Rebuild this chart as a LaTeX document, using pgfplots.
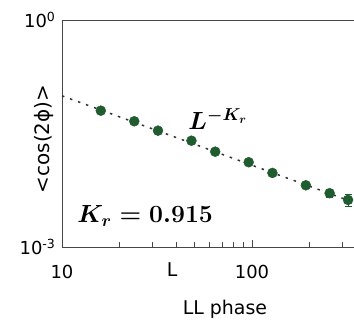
\documentclass[border=0pt]{standalone}
\usepackage{pgfplots}
\pgfplotsset{compat=1.18}
\usepackage{fontspec}
\setmainfont{DejaVu Sans}
\definecolor{mkgreen}{RGB}{32,92,48}
\definecolor{axgray}{RGB}{70,70,70}
\begin{document}
\begin{tikzpicture}
\begin{axis}[
  name=ax,
  scale only axis,
  width=292bp, height=227bp,
  xmode=log, ymode=log,
  xmin=10, xmax=344,
  ymin=0.001, ymax=1,
  axis x line=box, axis y line*=left,
  axis line style={axgray, line width=0.9bp},
  xtick={10,100}, xticklabels={10,100},
  minor xtick={20,30,40,50,60,70,80,90,200,300},
  xtick pos=left,
  major tick length=7bp, minor tick length=5bp,
  every tick/.style={axgray, line width=0.8bp},
  xticklabel style={anchor=base, yshift=-31bp, font=\fontsize{18}{20}\selectfont},
  ytick={0.001,1}, yticklabels={10\textsuperscript{-3},10\textsuperscript{0}},
  ytick style={draw=none},
  yticklabel style={font=\fontsize{18}{20}\selectfont, xshift=-3bp},
  xlabel={L},
  xlabel style={at={(axis description cs:0.377,0)}, anchor=center, yshift=-23bp, font=\fontsize{19}{21}\selectfont},
  ylabel={<cos(2ϕ)>},
  ylabel style={at={(axis description cs:-0.0616,0.476)}, anchor=center, font=\fontsize{20}{22}\selectfont},
  clip=false,
]
\addplot[only marks, mark=*, mark size=5bp, color=mkgreen,
  error bars/.cd, y dir=both, y explicit, error bar style={mkgreen, line width=1bp},
  error mark options={rotate=90, mark size=3.5bp, mkgreen, line width=1bp}]
  coordinates {
  (16,0.0634) +- (0,0)
  (24,0.0459) +- (0,0)
  (32,0.0345) +- (0,0)
  (48,0.0254) +- (0,0)
  (64,0.0182) +- (0,0)
  (96,0.0132) +- (0,0)
  (128,0.00953) +- (0,0)
  (192,0.00654) +- (0,0)
  (256,0.00514) +- (0,0.00065)
  (320,0.00419) +- (0,0.00078)
  };
\addplot[no marks, color=black!80, line width=1.5bp, dash pattern=on 2.5bp off 6bp]
  coordinates {(10,0.0995) (344,0.00388)};
\node[anchor=base west, font=\fontsize{25}{28}\selectfont\boldmath] at (rel axis cs:0.421,0.5176) {$L^{-K_r}$};
\node[anchor=base west, font=\fontsize{23}{26}\selectfont\boldmath] at (rel axis cs:0.041,0.106) {$K_r = 0.915$};
\node[anchor=center, font=\fontsize{19}{21}\selectfont] at (rel axis cs:0.558,0) [yshift=-62bp] {LL phase};
\end{axis}
\pgfresetboundingbox
\useasboundingbox ([xshift=-62bp,yshift=-79bp]ax.south west) rectangle ([yshift=20bp]ax.north east);
\end{tikzpicture}
\end{document}
